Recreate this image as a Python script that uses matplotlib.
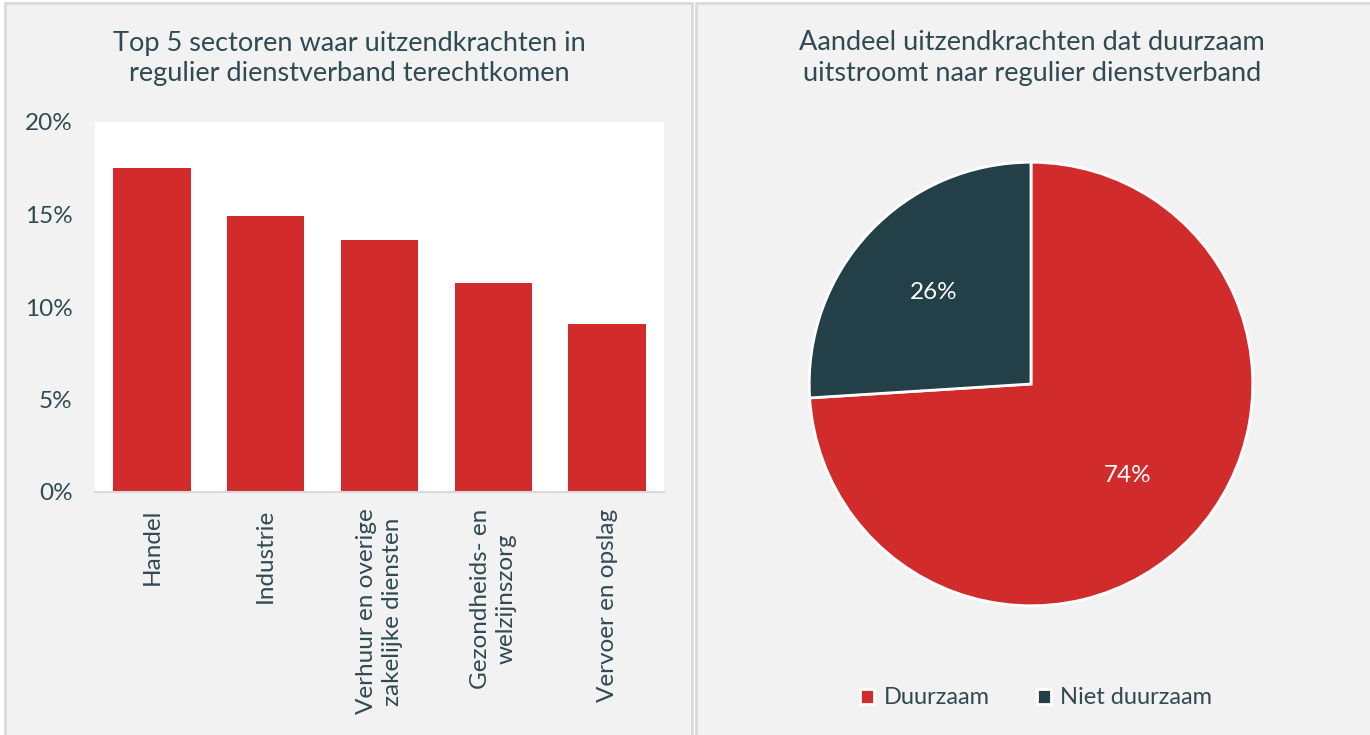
import matplotlib
matplotlib.use("Agg")
import matplotlib.pyplot as plt
from matplotlib.patches import Rectangle, Patch
from matplotlib.ticker import FuncFormatter

sectors = ["Handel", "Industrie", "Verhuur en overige\nzakelijke diensten",
           "Gezondheids- en\nwelzijnszorg", "Vervoer en opslag"]
shares = [17.5, 14.9, 13.6, 11.3, 9.1]
y_ticks = [0, 5, 10, 15, 20]

pie_labels = ["Duurzaam", "Niet duurzaam"]
pie_values = [74, 26]

title_left = "Top 5 sectoren waar uitzendkrachten in\nregulier dienstverband terechtkomen"
title_right = "Aandeel uitzendkrachten dat duurzaam\nuitstroomt naar regulier dienstverband"

RED = "#d22b2b"
DARK = "#234049"
TXT = "#2f4a52"
BG = "#f2f2f2"
plt.rcParams['font.family'] = ['Lato', 'DejaVu Sans']
FS = 17.5

W, H = 1370, 735
fig = plt.figure(figsize=(W / 100, H / 100), dpi=100, facecolor="white")

def fx(x):
    return x / W

def fy(y):
    return 1 - y / H

# panels
fig.patches.append(Rectangle((fx(5), fy(740)), fx(687), fy(3) - fy(740),
                             transform=fig.transFigure, facecolor=BG, edgecolor="#d9d9d9", lw=2, zorder=-5))
fig.patches.append(Rectangle((fx(696), fy(740)), fx(W + 5 - 696), fy(3) - fy(740),
                             transform=fig.transFigure, facecolor=BG, edgecolor="#d9d9d9", lw=2, zorder=-5))

# bar chart
ax = fig.add_axes([fx(95), fy(492), fx(664 - 95), (492 - 122) / H])
ax.set_facecolor("white")
x = range(len(sectors))
ax.bar(x, shares, width=0.68, color=RED, zorder=2)
ax.set_ylim(0, 20)
ax.set_xlim(-0.5, len(sectors) - 0.5)
ax.set_yticks(y_ticks)
ax.yaxis.set_major_formatter(FuncFormatter(lambda v, p: f"{int(v)}%"))
ax.set_xticks(list(x))
ax.set_xticklabels(sectors, rotation=90, va="top", ha="center", multialignment="center",
                   linespacing=1.25)
ax.tick_params(axis="both", length=0, labelsize=FS, colors=TXT)
ax.tick_params(axis="y", pad=16)
ax.tick_params(axis="x", pad=12)
for s in ["top", "right", "left"]:
    ax.spines[s].set_visible(False)
ax.spines["bottom"].set_color("#d9d9d9")
ax.spines["bottom"].set_linewidth(1.5)

fig.text(fx(349), fy(58), title_left, ha="center", va="center", fontsize=19.5,
         color=TXT, linespacing=1.25)
fig.text(fx(1032), fy(58), title_right, ha="center", va="center", fontsize=19.5,
         color=TXT, linespacing=1.25)

# pie chart
r = 224
axp = fig.add_axes([fx(1031 - r), fy(384 + r), fx(2 * r), 2 * r / H])
wedges, texts, autotexts = axp.pie(
    pie_values, colors=[RED, DARK], startangle=90, counterclock=False,
    autopct=lambda p: f"{p:.0f}%", pctdistance=0.6, radius=1,
    wedgeprops=dict(edgecolor="white", linewidth=2),
    textprops=dict(color="white", fontsize=FS))
axp.set_aspect("equal")
axp.set_xlim(-1.01, 1.01)
axp.set_ylim(-1.01, 1.01)

handles = [Patch(facecolor=RED, edgecolor="white", lw=2, label=pie_labels[0]),
           Patch(facecolor=DARK, edgecolor="white", lw=2, label=pie_labels[1])]
leg = fig.legend(handles=handles, loc="center", bbox_to_anchor=(fx(1036), fy(698)),
                 ncol=2, frameon=False, fontsize=17, handlelength=0.6, handleheight=0.6,
                 handletextpad=0.4, columnspacing=2.0)
for t in leg.get_texts():
    t.set_color(TXT)

fig.savefig("out.png", dpi=100, facecolor="white")
